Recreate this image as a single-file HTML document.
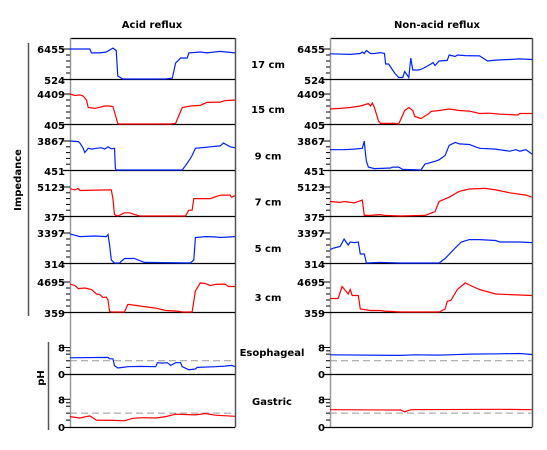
<!DOCTYPE html>
<html><head><meta charset="utf-8"><style>
body{margin:0;background:#fff;}
svg{display:block;font-family:"DejaVu Sans","Liberation Sans",sans-serif;font-weight:bold;}
</style></head><body>
<svg id="chart" width="547" height="450" viewBox="0 0 547 450">
<text x="152" y="28" font-size="10" text-anchor="middle">Acid reflux</text>
<text x="437" y="28" font-size="10" text-anchor="middle">Non-acid reflux</text>
<line x1="28.5" y1="43" x2="28.5" y2="316" stroke="#555" stroke-width="1.5"/>
<text transform="translate(21,180) rotate(-90)" font-size="10" text-anchor="middle">Impedance</text>
<line x1="48.5" y1="342" x2="48.5" y2="430" stroke="#555" stroke-width="1.5"/>
<text transform="translate(44,378) rotate(-90)" font-size="10" text-anchor="middle">pH</text>
<g id="g"></g>
</svg>
<script>
// channel labels & tick labels
const rowLabels=["17 cm","15 cm","9 cm","7 cm","5 cm","3 cm"];
const rowMax=[6455,4409,3867,5123,3397,4695];
const rowMin=[524,405,451,375,314,359];
const phLabels=["Esophageal","Gastric"];
const phTicks=[8,0];
const phThreshold=4;
// impedance series: time (0-100% of window) and normalized level (0=min tick,1=max tick)
const tA17=[0,12,13,18,22,26,28,29,32,58,62,64,67,71,72,79,83,91,100];
const vA17=[1,1,.87,.87,.9,1.03,.95,.1,0,0,.03,.53,.7,.7,.87,.9,.87,.92,.87];
const tA15=[0,3,6,8,10,11,15,21,24,26,27,29,30,61,64,68,73,79,83,91,94,100];
const vA15=[1,.95,.97,.93,.8,.55,.52,.6,.6,.58,.4,.02,0,0,.02,.55,.6,.62,.72,.73,.78,.8];
const tA9=[0,5,6,8,9,11,13,16,19,21,23,25,27,27.5,28,59,68,70,73,74,76,82,85,91,93,97,100];
const vA9=[1,.98,.93,.75,.6,.75,.72,.75,.77,.72,.8,.73,.75,.05,0,0,0,.15,.4,.5,.75,.78,.8,.83,.93,.8,.77];
const tA7=[0,3,5,6,24,25,26,27,29,33,36,41,42,70,72,74,75,85,90,92,97,98,100];
const vA7=[.94,.9,.95,.88,.9,.9,.6,.05,0,.11,.11,.02,0,0,.2,.2,.6,.6,.7,.72,.72,.65,.7];
const tA5=[0,6,15,22,23,24,25,27,30,33,39,45,73,75,76,82,88,91,100];
const vA5=[.97,.88,.9,.88,.95,.6,.1,0,0,.15,.15,.02,0,.1,.85,.88,.87,.85,.88];
const tA3=[0,3,5,9,13,16,18,20,22,23,24,25,33,35,36,45,52,58,65,68,74,76,79,82,85,88,94,96,100];
const vA3=[.93,.88,.78,.8,.75,.6,.58,.48,.5,.4,.02,0,0,.25,.25,.18,.13,.05,.03,0,0,.7,.97,.95,.88,.92,.93,.85,.85];
const tN17=[0,10,15,16,17,18,20,22,25,27,27.5,29,31,32,34,36,37,39,40,41,44,46,50,51,52,54,58,59,62,63,67,74,78,82,89,94,100];
const vN17=[.84,.82,.85,.9,.85,.95,.85,.85,.88,.85,.5,.5,.3,.2,.05,.05,.25,.05,.7,.3,.3,.35,.5,.55,.45,.6,.62,.8,.75,.8,.78,.77,.6,.63,.65,.67,.65];
const tN15=[0,5,10,15,19,20,21,22,24,25,32,34,37,39,41,42,45,49,50,54,59,64,69,74,79,84,93,94,100];
const vN15=[.5,.52,.55,.6,.68,.6,.7,.55,.1,.02,.02,0,.45,.55,.45,.25,.18,.35,.42,.45,.5,.45,.43,.35,.36,.33,.3,.35,.35];
const tN9=[0,7,12,16,17,17.3,18,19,22,30,31,34,36,45,47,52,54,57,59,62,64,69,72,74,82,89,92,94,97,100];
const vN9=[.7,.7,.72,.75,1,.75,.3,.1,.05,.07,.1,.1,.02,0,.2,.3,.35,.5,.85,.95,.9,.88,.8,.75,.72,.65,.7,.65,.7,.55];
const tN7=[0,5,7,12,16,17,20,25,27,35,47,52,54,59,64,69,77,82,89,97,100];
const vN7=[.5,.47,.5,.45,.55,.02,.02,.05,.02,0,.02,.15,.5,.65,.85,.93,.95,.9,.8,.72,.65];
const tN5=[0,2,5,7,9,10,12,14,15,17,18,25,35,54,57,62,65,69,74,82,84,94,100];
const vN5=[.45,.5,.55,.8,.6,.7,.68,.7,.3,.3,0,.02,0,0,.15,.5,.7,.78,.78,.75,.7,.7,.68];
const tN3=[0,4,6,9,10,11,14,15,20,25,27,35,54,57,58,60,63,67,69,74,82,89,100];
const vN3=[.45,.45,.85,.6,.75,.55,.55,.1,.05,.05,.03,0,0,.1,.35,.4,.75,.97,.9,.75,.6,.58,.55];
// pH series
const tAesoph=[0,23,24,26,27,29,32,35,42,52,53,56,59,61,64,67,68,72,76,77,88,94,98,100];
const vAesoph=[4.9,5.0,4.6,4.6,2.5,1.8,2.0,2.2,2.3,2.2,3.4,3.3,3.4,2.6,3.4,3.4,2.2,1.3,1.5,2.0,2.2,2.4,2.6,2.2];
const tAgast=[0,6,12,16,27,33,38,45,52,58,64,76,82,88,100];
const vAgast=[3.0,2.6,3.2,2.0,1.9,1.8,2.5,2.7,2.6,3.0,3.7,3.5,3.9,3.4,3.1];
const tNesoph=[0,35,42,54,59,69,84,94,100];
const vNesoph=[5.8,5.6,5.8,5.7,5.8,6.0,6.1,6.2,5.9];
const tNgast=[0,35,37,40,84,100];
const vNgast=[5.0,4.9,4.4,5.0,5.1,5.0];

const NS="http://www.w3.org/2000/svg";
const g=document.getElementById('g');
function mk(tag,attrs,parent){const e=document.createElementNS(NS,tag);for(const k in attrs)e.setAttribute(k,attrs[k]);(parent||g).appendChild(e);return e;}
const panels=[{x0:70,x1:235,lab:66,key:'A',name:'acid'},{x0:330,x1:532,lab:326,key:'N',name:'non-acid'}];
const rowTop=[49,94,141,187,233,282], rowBase=[79,124,170,216,263,312];
const phTop=[347.5,399.3], phBase=[374,427];
const colors=["#0022ff","#ff0000"];
const impT={A:[tA17,tA15,tA9,tA7,tA5,tA3],N:[tN17,tN15,tN9,tN7,tN5,tN3]};
const impV={A:[vA17,vA15,vA9,vA7,vA5,vA3],N:[vN17,vN15,vN9,vN7,vN5,vN3]};
const phT={A:[tAesoph,tAgast],N:[tNesoph,tNgast]};
const phV={A:[vAesoph,vAgast],N:[vNesoph,vNgast]};
panels.forEach(p=>{
  const xs=t=>p.x0+(p.x1-p.x0)*t/100;
  const frame=mk('g',{});
  
  
  const b=mk('line',{x1:p.x0,y1:38.5,x2:p.x1,y2:38.5,stroke:'#000','stroke-width':1.2},frame);
  
  const l=mk('line',{x1:p.x0+.5,y1:38,x2:p.x0+.5,y2:427.5,stroke:'#999','stroke-width':1.5},frame);
  
  const r=mk('line',{x1:p.x1+.5,y1:38,x2:p.x1+.5,y2:427.5,stroke:'#555','stroke-width':1.5},frame);
  
  rowLabels.forEach((lab,i)=>{
    const top=rowTop[i],base=rowBase[i];
    const ax=mk('g',{});
    
    
    mk('line',{x1:p.x0-7,y1:top,x2:p.x0,y2:top,stroke:'#000'},ax);
    mk('line',{x1:p.x0-7,y1:base+.5,x2:p.x1,y2:base+.5,stroke:'#000','stroke-width':1.2},ax);
    for(let k=1;k<=4;k++){const y=top+(base-top)*k/5;mk('line',{x1:p.x0-4,y1:y,x2:p.x0,y2:y,stroke:'#000'},ax);}
    const t1=mk('text',{x:p.lab-1,y:top+4,'font-size':10,'text-anchor':'end'},ax);t1.textContent=rowMax[i];
    const t2=mk('text',{x:p.lab-1,y:base+5,'font-size':10,'text-anchor':'end'},ax);t2.textContent=rowMin[i];
    const T=impT[p.key][i],V=impV[p.key][i];
    const d=T.map((t,j)=>(j?'L':'M')+xs(t).toFixed(1)+','+(base-(base-top)*V[j]).toFixed(1)).join('');
    const path=mk('path',{d:d,fill:'none',stroke:colors[i%2],'stroke-width':1.2});
    
    
  });
  phLabels.forEach((lab,i)=>{
    const top=phTop[i],base=phBase[i];
    const ys=v=>base-(base-top)*v/phTicks[0];
    const ax=mk('g',{});
    
    
    mk('line',{x1:p.x0-7,y1:top,x2:p.x0,y2:top,stroke:'#000'},ax);
    mk('line',{x1:p.x0-7,y1:base+.5,x2:p.x1,y2:base+.5,stroke:'#000','stroke-width':1.2},ax);
    [7,6,4,2].forEach(v=>mk('line',{x1:p.x0-4,y1:ys(v),x2:p.x0,y2:ys(v),stroke:'#000'},ax));
    phTicks.forEach(v=>{const t=mk('text',{x:p.lab-1,y:ys(v)+4,'font-size':10,'text-anchor':'end'},ax);t.textContent=v;});
    const th=mk('line',{x1:p.x0,y1:ys(phThreshold),x2:p.x1,y2:ys(phThreshold),stroke:'#999','stroke-dasharray':'7,4'});
    
    
    const T=phT[p.key][i],V=phV[p.key][i];
    const d=T.map((t,j)=>(j?'L':'M')+xs(t).toFixed(1)+','+ys(V[j]).toFixed(1)).join('');
    const path=mk('path',{d:d,fill:'none',stroke:colors[i],'stroke-width':1.2});
    
    
  });
});
rowLabels.forEach((lab,i)=>{
  const t=mk('text',{x:268,y:(rowTop[i]+rowBase[i])/2+4,'font-size':10,'text-anchor':'middle'});
  t.textContent=lab;
  
  
});
[356,405].forEach((y,i)=>{
  const t=mk('text',{x:272,y:y,'font-size':10,'text-anchor':'middle'});
  t.textContent=phLabels[i];
  
  
});
</script>
</body></html>
